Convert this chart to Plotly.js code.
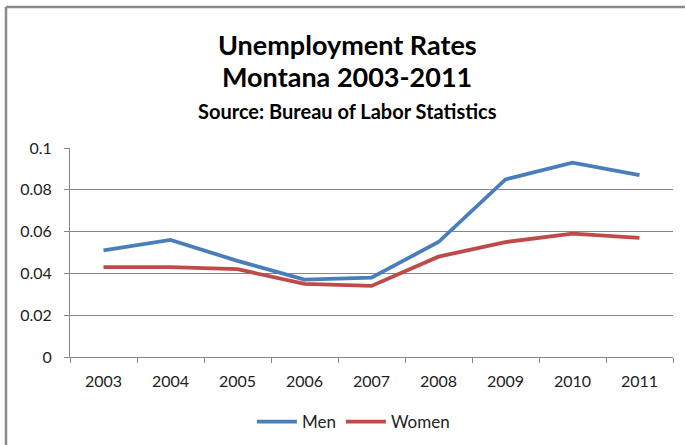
<!DOCTYPE html>
<html><head><meta charset="utf-8">
<script src="https://cdn.plot.ly/plotly-3.0.1.min.js"></script>
<style>html,body{margin:0;padding:0;background:#fff;overflow:hidden}#c{width:686px;height:445px}</style>
</head><body><div id="c"></div>
<script>
const years = ['2003','2004','2005','2006','2007','2008','2009','2010','2011'];
const men = [0.051, 0.056, 0.046, 0.037, 0.038, 0.055, 0.085, 0.093, 0.087];
const women = [0.043, 0.043, 0.042, 0.035, 0.034, 0.048, 0.055, 0.059, 0.057];
const yTicks = [0, 0.02, 0.04, 0.06, 0.08, 0.1];
const yTickText = ['0', '0.02', '0.04', '0.06', '0.08', '0.1'];

const font = 'Lato, "Open Sans", sans-serif';
const traces = [
  {x: years, y: men, name: 'Men', type: 'scatter', mode: 'lines', line: {color: '#4a7ebb', width: 3.8}},
  {x: years, y: women, name: 'Women', type: 'scatter', mode: 'lines', line: {color: '#be4b48', width: 3.8}}
];
const layout = {
  width: 686, height: 445,
  margin: {l: 70, r: 13, t: 148, b: 88, autoexpand: false},
  paper_bgcolor: '#fff', plot_bgcolor: '#fff',
  font: {family: font, size: 16, color: '#222'},
  showlegend: true,
  legend: {orientation: 'h', x: 0.47, xanchor: 'center', y: (357-422)/209, yanchor: 'middle', itemwidth: 40, font: {size: 17, color: '#222'}},
  xaxis: {type: 'category', range: [-0.5, 8.5], tickson: 'boundaries', ticks: 'outside', ticklen: 5, tickcolor: '#868686',
          showline: true, linecolor: '#868686', linewidth: 1, showgrid: false, zeroline: false,
          ticklabelstandoff: 10, tickfont: {size: 16, color: '#222'}},
  yaxis: {range: [0, 0.1], tickvals: yTicks, ticktext: yTickText, ticks: 'outside', ticklen: 5, tickcolor: '#868686',
          showline: true, linecolor: '#868686', linewidth: 1, showgrid: true, gridcolor: '#868686', gridwidth: 1,
          zeroline: false, ticklabelstandoff: 9, tickfont: {size: 16, color: '#222'}},
  annotations: [
    {text: '<b>Unemployment Rates</b>', xref: 'paper', yref: 'paper', x: 0.46, y: (357-44)/209, xanchor: 'center', yanchor: 'middle', showarrow: false, font: {size: 27, color: '#000', family: font}},
    {text: '<b>Montana 2003-2011</b>', xref: 'paper', yref: 'paper', x: 0.46, y: (357-77)/209, xanchor: 'center', yanchor: 'middle', showarrow: false, font: {size: 27, color: '#000', family: font}},
    {text: '<b>Source: Bureau of Labor Statistics</b>', xref: 'paper', yref: 'paper', x: 0.46, y: (357-111)/209, xanchor: 'center', yanchor: 'middle', showarrow: false, font: {size: 20, color: '#000', family: font}}
  ],
  shapes: [
    {type: 'line', xref: 'paper', yref: 'paper', x0: -64/603, x1: 1.02, y0: (357-7)/209, y1: (357-7)/209, line: {color: '#8a8a8a', width: 2.5}},
    {type: 'line', xref: 'paper', yref: 'paper', x0: -64/603, x1: -64/603, y0: (357-7)/209, y1: -0.5, line: {color: '#8a8a8a', width: 2.5}}
  ]
};
Plotly.newPlot('c', traces, layout, {staticPlot: true});
</script></body></html>
